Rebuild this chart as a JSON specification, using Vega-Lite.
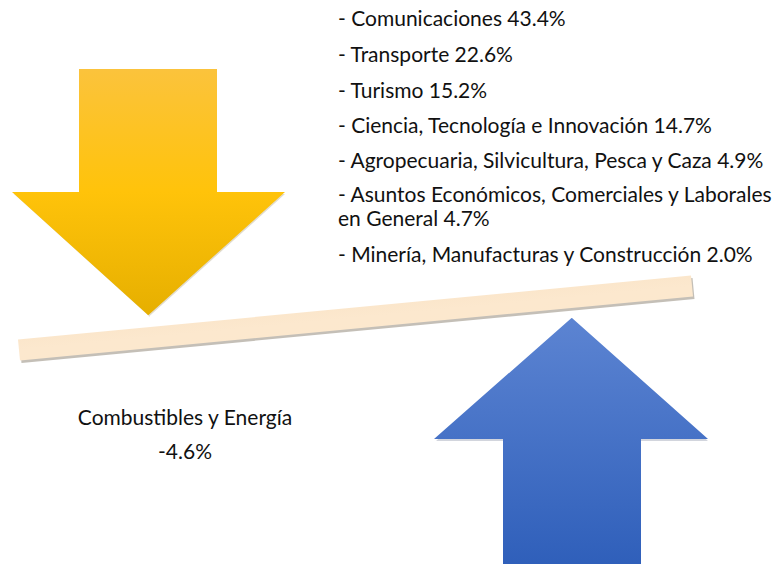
{
  "$schema": "https://vega.github.io/schema/vega-lite/v6.json",
  "width": 776,
  "height": 564,
  "padding": 0,
  "autosize": {"type": "none"},
  "background": "white",
  "config": {"view": {"stroke": null}},
  "datasets": {
    "down": [
      {"y": 69, "xl": 79, "xr": 217},
      {"y": 192, "xl": 79, "xr": 217},
      {"y": 192.01, "xl": 12, "xr": 285},
      {"y": 315, "xl": 148, "xr": 148.5}
    ],
    "up": [
      {"y": 318, "xl": 571.5, "xr": 572},
      {"y": 439, "xl": 434, "xr": 708},
      {"y": 439.01, "xl": 503, "xr": 641},
      {"y": 566, "xl": 503, "xr": 641}
    ],
    "beam": [
      {"x": 19, "y": 350},
      {"x": 692, "y": 286}
    ],
    "labels": [
      {"text": "- Comunicaciones 43.4%", "x": 338, "y": 20},
      {"text": "- Transporte 22.6%", "x": 338, "y": 56},
      {"text": "- Turismo 15.2%", "x": 338, "y": 92},
      {"text": "- Ciencia, Tecnología e Innovación 14.7%", "x": 338, "y": 127},
      {"text": "- Agropecuaria, Silvicultura, Pesca y Caza 4.9%", "x": 338, "y": 162},
      {"text": "- Asuntos Económicos, Comerciales y Laborales", "x": 338, "y": 196},
      {"text": "en General 4.7%", "x": 338, "y": 220},
      {"text": "- Minería, Manufacturas y Construcción 2.0%", "x": 338, "y": 256}
    ],
    "left": [
      {"text": "Combustibles y Energía", "x": 185, "y": 419},
      {"text": "-4.6%", "x": 185, "y": 453}
    ]
  },
  "resolve": {"scale": {"x": "shared", "y": "shared"}},
  "layer": [
    {
      "data": {"name": "down"},
      "mark": {"type": "area", "orient": "horizontal", "color": "#9a8a60", "opacity": 0.3, "xOffset": 2, "yOffset": 2},
      "encoding": {
        "y": {"field": "y", "type": "quantitative", "scale": {"domain": [0, 564], "reverse": true, "nice": false, "zero": false}, "axis": null},
        "x": {"field": "xl", "type": "quantitative", "scale": {"domain": [0, 776], "nice": false, "zero": false}, "axis": null},
        "x2": {"field": "xr"}
      }
    },
    {
      "data": {"name": "down"},
      "mark": {"type": "area", "orient": "horizontal",
        "color": {"gradient": "linear", "x1": 0, "y1": 0, "x2": 0, "y2": 1,
          "stops": [{"offset": 0, "color": "#FBC33C"}, {"offset": 0.5, "color": "#FFC30A"}, {"offset": 1, "color": "#E6AF00"}]}},
      "encoding": {
        "y": {"field": "y", "type": "quantitative"},
        "x": {"field": "xl", "type": "quantitative"},
        "x2": {"field": "xr"}
      }
    },
    {
      "data": {"name": "up"},
      "mark": {"type": "area", "orient": "horizontal", "color": "#6a7590", "opacity": 0.3, "xOffset": 2, "yOffset": 2},
      "encoding": {
        "y": {"field": "y", "type": "quantitative"},
        "x": {"field": "xl", "type": "quantitative"},
        "x2": {"field": "xr"}
      }
    },
    {
      "data": {"name": "up"},
      "mark": {"type": "area", "orient": "horizontal",
        "color": {"gradient": "linear", "x1": 0, "y1": 0, "x2": 0, "y2": 1,
          "stops": [{"offset": 0, "color": "#5C84D2"}, {"offset": 1, "color": "#2F5FBA"}]}},
      "encoding": {
        "y": {"field": "y", "type": "quantitative"},
        "x": {"field": "xl", "type": "quantitative"},
        "x2": {"field": "xr"}
      }
    },
    {
      "data": {"name": "beam"},
      "mark": {"type": "line", "stroke": "#8a8070", "strokeWidth": 21, "strokeCap": "butt", "opacity": 0.5, "xOffset": 1.5, "yOffset": 2.5},
      "encoding": {
        "x": {"field": "x", "type": "quantitative"},
        "y": {"field": "y", "type": "quantitative"}
      }
    },
    {
      "data": {"name": "beam"},
      "mark": {"type": "line", "strokeWidth": 21, "strokeCap": "butt",
        "stroke": {"gradient": "linear", "x1": 0, "y1": 0, "x2": 1, "y2": 1,
          "stops": [{"offset": 0, "color": "#F6DDBD"}, {"offset": 0.5, "color": "#FCE8CE"}, {"offset": 1, "color": "#FCE8CC"}]}},
      "encoding": {
        "x": {"field": "x", "type": "quantitative"},
        "y": {"field": "y", "type": "quantitative"}
      }
    },
    {
      "data": {"name": "labels"},
      "mark": {"type": "text", "align": "left", "baseline": "middle", "font": "Lato", "fontSize": 21, "color": "#111111"},
      "encoding": {
        "x": {"field": "x", "type": "quantitative"},
        "y": {"field": "y", "type": "quantitative"},
        "text": {"field": "text"}
      }
    },
    {
      "data": {"name": "left"},
      "mark": {"type": "text", "align": "center", "baseline": "middle", "font": "Lato", "fontSize": 21, "color": "#111111"},
      "encoding": {
        "x": {"field": "x", "type": "quantitative"},
        "y": {"field": "y", "type": "quantitative"},
        "text": {"field": "text"}
      }
    }
  ]
}
